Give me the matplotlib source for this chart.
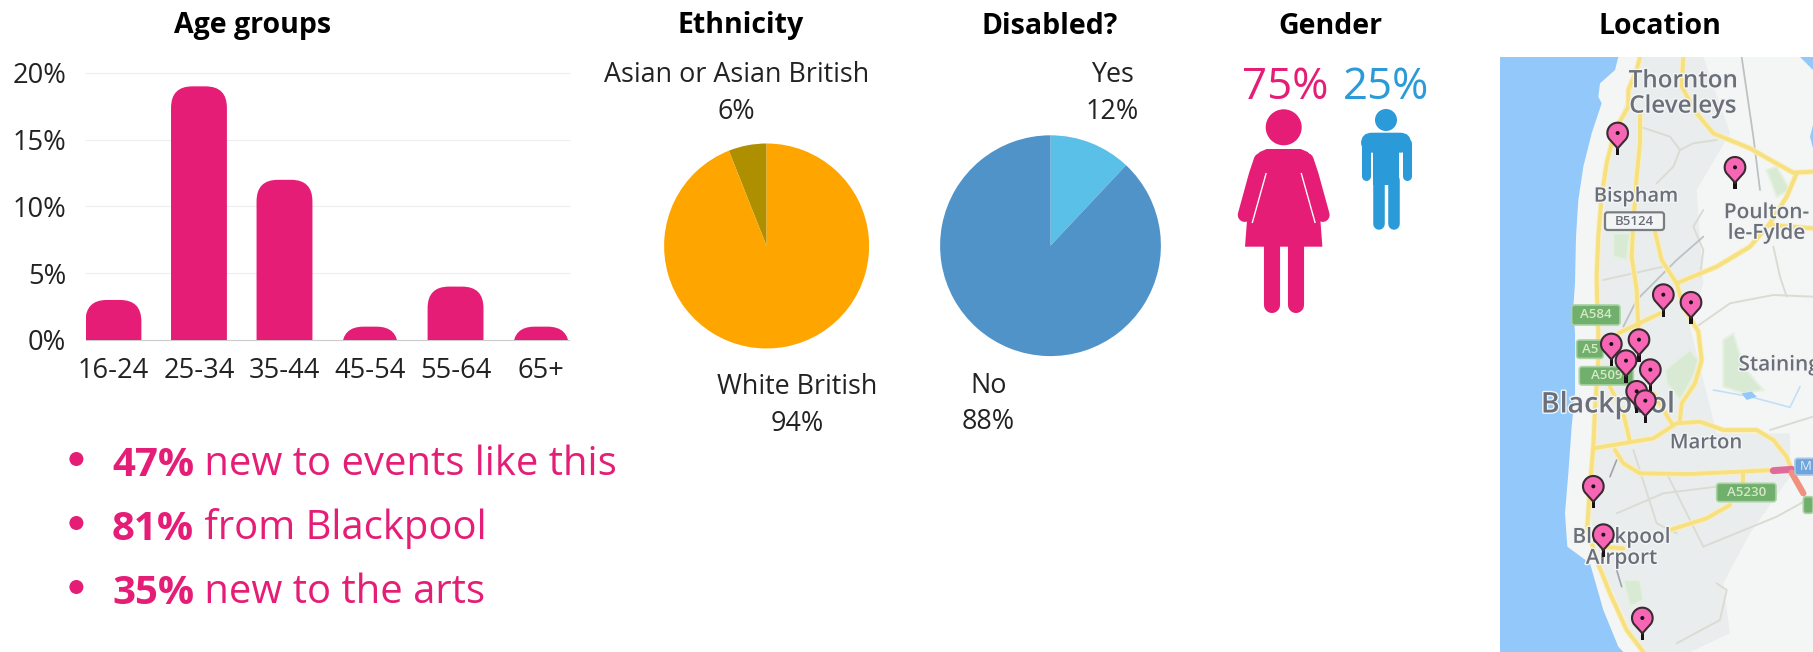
import matplotlib
matplotlib.use("Agg")
import matplotlib.pyplot as plt
import matplotlib.patheffects as pe
from matplotlib.patches import FancyBboxPatch, Circle, Polygon, Rectangle
import numpy as np

plt.rcParams['font.family'] = ['Open Sans', 'DejaVu Sans']

W, H = 1813, 652

# bar chart
age_groups = ["16-24", "25-34", "35-44", "45-54", "55-64", "65+"]
age_values = [3, 19, 12, 1, 4, 1]
age_ticks = [0, 5, 10, 15, 20]

# pies
ethnicity_labels = ["Asian or Asian British", "White British"]
ethnicity_values = [6, 94]
disabled_labels = ["Yes", "No"]
disabled_values = [12, 88]

# gender
women_pct = 75
men_pct = 25

# bullet points
highlights = [("47%", "new to events like this"),
              ("81%", "from Blackpool"),
              ("35%", "new to the arts")]

# pin tips, map units (3 units = 1 pixel)
pin_x = [383, 735, 520, 603, 364, 447, 408, 481, 440, 466, 310, 340, 457]
pin_y = [315, 418, 800, 823, 948, 935, 998, 1025, 1090, 1118, 1375, 1520, 1770]

PINK = "#E51D76"
BLUE = "#2B9AD8"
TEXT = "#222222"


def px_axes(fig, left, top, right, bottom):
    """axes placed by pixel box, y counted from the top"""
    return fig.add_axes([left / W, 1 - bottom / H, (right - left) / W, (bottom - top) / H])


def draw_bars(ax):
    width = 56 / 85.7
    ax.set_xlim(-width / 2, 5 + width / 2)
    ax.set_ylim(0, 20)
    aspect = (1 / 13.35) / (1 / 85.7)
    for i, v in enumerate(age_values):
        # box runs below zero, the axes clip leaves only the rounded top
        ax.add_patch(FancyBboxPatch((i - width / 2, -3), width, v + 3,
                                    boxstyle="round,pad=0,rounding_size=0.25",
                                    mutation_aspect=aspect, fc=PINK, ec="none", zorder=3))
    ax.set_xticks(range(len(age_groups)), age_groups)
    ax.set_yticks(age_ticks, [f"{t}%" for t in age_ticks])
    ax.tick_params(length=0, labelsize=19.6, labelcolor=TEXT)
    ax.tick_params(axis='x', pad=12.5)
    ax.tick_params(axis='y', pad=14)
    ax.grid(axis='y', color="#EEEEEE", lw=0.8, clip_on=False)
    ax.set_axisbelow(True)
    for s in ['top', 'left', 'right']:
        ax.spines[s].set_visible(False)
    ax.spines['bottom'].set_color("#CCCCCC")


def draw_pie(fig, cx, cy, r, values, colors, counterclock):
    ax = px_axes(fig, cx - r, cy - r, cx + r, cy + r)
    ax.pie(values, colors=colors, startangle=90, counterclock=counterclock, radius=1.0,
           wedgeprops={'linewidth': 0})
    ax.set_xlim(-1, 1)
    ax.set_ylim(-1, 1)


def draw_woman(ax, cx):
    ax.add_patch(Circle((cx, 127.3), 18, fc=PINK, ec="none"))
    for side in (-1, 1):
        ax.plot([cx + side * 23, cx + side * 28, cx + side * 39], [160, 175, 215], color=PINK, lw=10,
                solid_capstyle='round', solid_joinstyle='round')
    ax.add_patch(Polygon([(cx - 17, 149), (cx + 17, 149), (cx + 24, 152), (cx + 29, 158), (cx + 33, 172),
                          (cx + 38.7, 246.7), (cx - 38.7, 246.7), (cx - 33, 172), (cx - 29, 158),
                          (cx - 24, 152)], fc=PINK, ec="none"))
    for side in (-1, 1):
        ax.plot([cx + side * 17.5, cx + side * 31.5], [173, 223], color="white", lw=1.0,
                solid_capstyle='butt')
        ax.plot([cx + side * 11.8] * 2, [240, 304.7], color=PINK, lw=11.6,
                solid_capstyle='round')


def draw_man(ax, cx):
    ax.add_patch(Circle((cx, 120), 11, fc=BLUE, ec="none"))
    ax.add_patch(FancyBboxPatch((cx - 25, 132.7), 50, 20, boxstyle="round,pad=0,rounding_size=11",
                                fc=BLUE, ec="none"))
    ax.add_patch(Rectangle((cx - 13, 145), 26, 40, fc=BLUE, ec="none"))
    for side in (-1, 1):
        ax.plot([cx + side * 20.5] * 2, [143, 175.5], color=BLUE, lw=6.5, solid_capstyle='round')
        ax.plot([cx + side * 7.5] * 2, [180, 223.5], color=BLUE, lw=8.3, solid_capstyle='round')


def road(ax, pts, color="#F7E07F", lw=2.6, z=3):
    xs, ys = zip(*pts)
    ax.plot(xs, ys, color=color, lw=lw, solid_capstyle='round', solid_joinstyle='round', zorder=z)


def draw_pin(ax, x, y):
    cy = y - 66
    ang = np.radians(np.linspace(-35, 215, 40))
    head = np.column_stack([x + 31 * np.cos(ang), cy - 31 * np.sin(ang)])
    outline = np.vstack([head, [[x, y - 20]]])
    ax.add_patch(Rectangle((x - 5, y - 32), 10, 32, fc="#1A1114", ec="none", zorder=8))
    ax.add_patch(Polygon(outline, fc="#F766B4", ec="#3A2A32", lw=1.5, zorder=9))
    ax.add_patch(Circle((x, cy), 6, fc="#1A1114", ec="none", zorder=10))


def draw_map(ax):
    ax.set_xlim(30, 969)
    ax.set_ylim(1806, 21)
    ax.axis('off')
    ax.add_patch(Rectangle((30, 21), 939, 1785, fc="#92C9FA", ec="none", zorder=0))
    land = [(385, 21), (375, 60), (330, 100), (325, 140), (335, 160), (305, 250), (280, 350),
            (265, 450), (258, 560), (255, 700), (250, 770), (255, 850), (255, 1030), (245, 1130),
            (235, 1270), (225, 1390), (232, 1490), (300, 1540), (320, 1610), (340, 1680),
            (385, 1790), (400, 1806), (969, 1806), (969, 21)]
    ax.add_patch(Polygon(land, fc="#F4F6F6", ec="none", zorder=1))
    urban = [(450, 21), (640, 21), (720, 250), (620, 420), (640, 700), (600, 830), (680, 1150),
             (900, 1150), (900, 1280), (780, 1450), (700, 1600), (720, 1750), (600, 1806),
             (450, 1806), (340, 1560), (300, 1400), (320, 1000), (330, 600), (360, 300)]
    ax.add_patch(Polygon(urban, fc="#EAEDEE", ec="none", zorder=1))

    # parks and water
    greens = [[(525, 960), (600, 900), (625, 930), (610, 980), (570, 1050), (530, 1000)],
              [(700, 870), (730, 850), (760, 950), (820, 1020), (760, 1030), (700, 1010)],
              [(370, 550), (420, 550), (410, 630), (370, 620)],
              [(830, 360), (860, 350), (900, 420), (860, 440)],
              [(400, 1590), (450, 1590), (460, 1650), (420, 1670)]]
    for g in greens:
        ax.add_patch(Polygon(g, fc="#D8EAD4", ec="#E4F0E0", lw=1.5, zorder=2))
    ax.add_patch(Polygon([(930, 21), (969, 21), (969, 60)], fc="#92C9FA", ec="none", zorder=2))
    ax.add_patch(Polygon([(969, 225), (960, 260), (969, 295)], fc="#92C9FA", ec="none", zorder=2))
    road(ax, [(670, 1020), (780, 1040), (900, 1072), (930, 1010)], color="#C3DFF5", lw=1.2)
    ax.add_patch(Polygon([(755, 1030), (785, 1025), (800, 1040), (770, 1050)], fc="#92C9FA",
                         ec="none", zorder=3))

    # minor roads
    minor = [[(450, 230), (540, 260), (570, 300), (610, 280), (680, 270)],
             [(570, 300), (550, 350), (500, 400)],
             [(340, 690), (520, 650)],
             [(640, 480), (610, 530), (640, 600), (630, 680)],
             [(620, 830), (720, 760), (850, 735), (969, 740)],
             [(850, 590), (870, 680), (890, 740)],
             [(380, 1390), (520, 1330), (680, 1310)],
             [(430, 1200), (500, 1420), (560, 1450)],
             [(530, 1270), (620, 1450), (640, 1490)],
             [(640, 1490), (860, 1400), (969, 1340)],
             [(680, 1600), (710, 1620), (690, 1710), (560, 1780)],
             [(840, 1140), (969, 1100)]]
    for m in minor:
        road(ax, m, color="#DADCD3", lw=1.4)
    road(ax, [(755, 21), (790, 260), (810, 420)], color="#BDC1C4", lw=1.3)
    road(ax, [(640, 560), (560, 630), (440, 750), (400, 830)], color="#BDC1C4", lw=1.3)
    road(ax, [(380, 1230), (360, 1280)], color="#A0A4A8", lw=1.2)
    road(ax, [(380, 1560), (395, 1610)], color="#A0A4A8", lw=1.2)

    # main roads, a pale wider stroke under each one keeps the edges soft
    main = [[(450, 21), (440, 60), (415, 120), (415, 170), (375, 240), (350, 340), (335, 440),
             (325, 560), (320, 680), (322, 760), (325, 850), (325, 930), (315, 1080), (310, 1190),
             (300, 1310), (292, 1430), (320, 1530), (360, 1630), (410, 1740), (460, 1806)],
            [(450, 190), (450, 280), (440, 380), (430, 520), (425, 620), (440, 720), (445, 840)],
            [(580, 21), (575, 110), (620, 190), (670, 250), (780, 295), (850, 335), (910, 368),
             (969, 365)],
            [(920, 370), (890, 440), (840, 520), (780, 590), (680, 650), (560, 700)],
            [(495, 545), (515, 630), (560, 700), (580, 770), (625, 845), (635, 930), (615, 1000),
             (575, 1060), (570, 1110)],
            [(969, 535), (840, 525)],
            [(385, 850), (510, 790)],
            [(310, 1195), (400, 1180), (490, 1165), (560, 1120), (630, 1115), (700, 1140),
             (800, 1140), (850, 1170), (890, 1220), (905, 1260)],
            [(375, 1200), (400, 1240), (450, 1270), (600, 1272), (750, 1265), (850, 1260)],
            [(760, 1265), (760, 1295)],
            [(720, 1365), (650, 1405), (540, 1440)],
            [(360, 1010), (400, 1090), (420, 1175)],
            [(490, 1030), (545, 1120)],
            [(340, 1490), (400, 1495)]]
    for m in main:
        road(ax, m, color="#FAEFC0", lw=4.2)
    for m in main:
        road(ax, m, color="#F7E07F", lw=2.8)
    road(ax, [(850, 1262), (905, 1258)], color="#E06A9A", lw=5, z=4)
    road(ax, [(905, 1268), (940, 1330)], color="#F0917F", lw=4.5, z=4)

    # place names
    halo = [pe.withStroke(linewidth=2, foreground="#F3F5F5")]
    places = [("Thornton", 580, 94, 17.4), ("Cleveleys", 578, 170, 17.4), ("Bispham", 438, 440, 14.4),
              ("Poulton-", 830, 488, 15), ("le-Fylde", 830, 550, 15), ("Staining", 868, 945, 15),
              ("Blackpool", 354, 1065, 20.5), ("Marton", 648, 1180, 14.6),
              ("Blackpool", 395, 1462, 15), ("Airport", 395, 1525, 15)]
    for name, x, y, size in places:
        ax.text(x, y, name, ha='center', va='center', fontsize=size, color="#6A6F7A",
                fontweight='semibold', path_effects=halo, zorder=6, clip_on=True)

    # road shields
    shields = [("A584", 245, 765, 390, 825), ("A5", 260, 870, 340, 925), ("A509", 268, 950, 430, 1005),
               ("A5230", 680, 1300, 858, 1355), ("", 940, 1340, 969, 1390)]
    for name, x0, y0, x1, y1 in shields:
        ax.add_patch(FancyBboxPatch((x0, y0), x1 - x0, y1 - y0, boxstyle="round,pad=0,rounding_size=8",
                                    fc="#70AF6C", ec="#AAD2A4", lw=1.2, zorder=7))
        ax.text((x0 + x1) / 2, (y0 + y1) / 2, name, ha='center', va='center', fontsize=9.5,
                fontweight='semibold', color="#D5E9C6", zorder=7)
    ax.add_patch(FancyBboxPatch((345, 487), 177, 53, boxstyle="round,pad=0,rounding_size=8",
                                fc="#F3F5F5", ec="#7A7D80", lw=1.6, zorder=7))
    ax.text(434, 514, "B5124", ha='center', va='center', fontsize=9.5, fontweight='semibold',
            color="#6A6F7A", zorder=7)
    ax.add_patch(FancyBboxPatch((915, 1225), 70, 50, boxstyle="round,pad=0,rounding_size=8",
                                fc="#6FA5DC", ec="#A6C8EA", lw=1.2, zorder=7, clip_on=True))
    ax.text(948, 1250, "M", ha='center', va='center', fontsize=9.5, color="#E4EEF8", zorder=7)

    for x, y in zip(pin_x, pin_y):
        draw_pin(ax, x, y)


fig = plt.figure(figsize=(W / 100, H / 100), dpi=100, facecolor="white")

ax_bars = px_axes(fig, 85.5, 73, 569, 340)
draw_bars(ax_bars)

draw_pie(fig, 766.6, 246, 102.5, ethnicity_values, ["#AD8F00", "#FFA500"], True)
draw_pie(fig, 1050.5, 245.7, 110.4, disabled_values, ["#5BC0E8", "#4F93C9"], False)

ax_map = px_axes(fig, 1500, 57, 1813, 652)
draw_map(ax_map)

# everything else goes on a pixel canvas over the whole figure
canvas = px_axes(fig, 0, 0, W, H)
canvas.set_xlim(0, W)
canvas.set_ylim(H, 0)
canvas.axis('off')
canvas.patch.set_alpha(0)

titles = [("Age groups", 253), ("Ethnicity", 741), ("Disabled?", 1050), ("Gender", 1330), ("Location", 1660)]
for name, x in titles:
    canvas.text(x, 26, name, ha='center', va='center', fontsize=20.5, fontweight='bold', color="black")

pie_notes = [(ethnicity_labels[0], ethnicity_values[0], 736.6, 75, 112),
             (ethnicity_labels[1], ethnicity_values[1], 797, 387, 424),
             (disabled_labels[0], disabled_values[0], 1112, 75, 112),
             (disabled_labels[1], disabled_values[1], 988.6, 386, 422)]
for label, value, x, y1, y2 in pie_notes:
    canvas.text(x, y1, label, ha='center', va='center', fontsize=19.4, color=TEXT)
    canvas.text(x, y2, f"{value}%", ha='center', va='center', fontsize=19.4, color=TEXT)

canvas.text(1285, 88, f"{women_pct}%", ha='center', va='center', fontsize=31.5, color=PINK)
canvas.text(1386, 88, f"{men_pct}%", ha='center', va='center', fontsize=31.5, color=BLUE)
draw_woman(canvas, 1283.7)
draw_man(canvas, 1386)

for (num, rest), base in zip(highlights, [476, 540, 604]):
    canvas.add_patch(Circle((76.4, base - 17), 7, fc=PINK, ec="none"))
    t = canvas.text(112, base, num, ha='left', va='baseline', fontsize=29, fontweight='bold', color=PINK)
    canvas.annotate(" " + rest, xy=(1, 0), xycoords=t, ha='left', va='bottom', fontsize=28.8, color=PINK)

fig.savefig("out.png", dpi=100)
